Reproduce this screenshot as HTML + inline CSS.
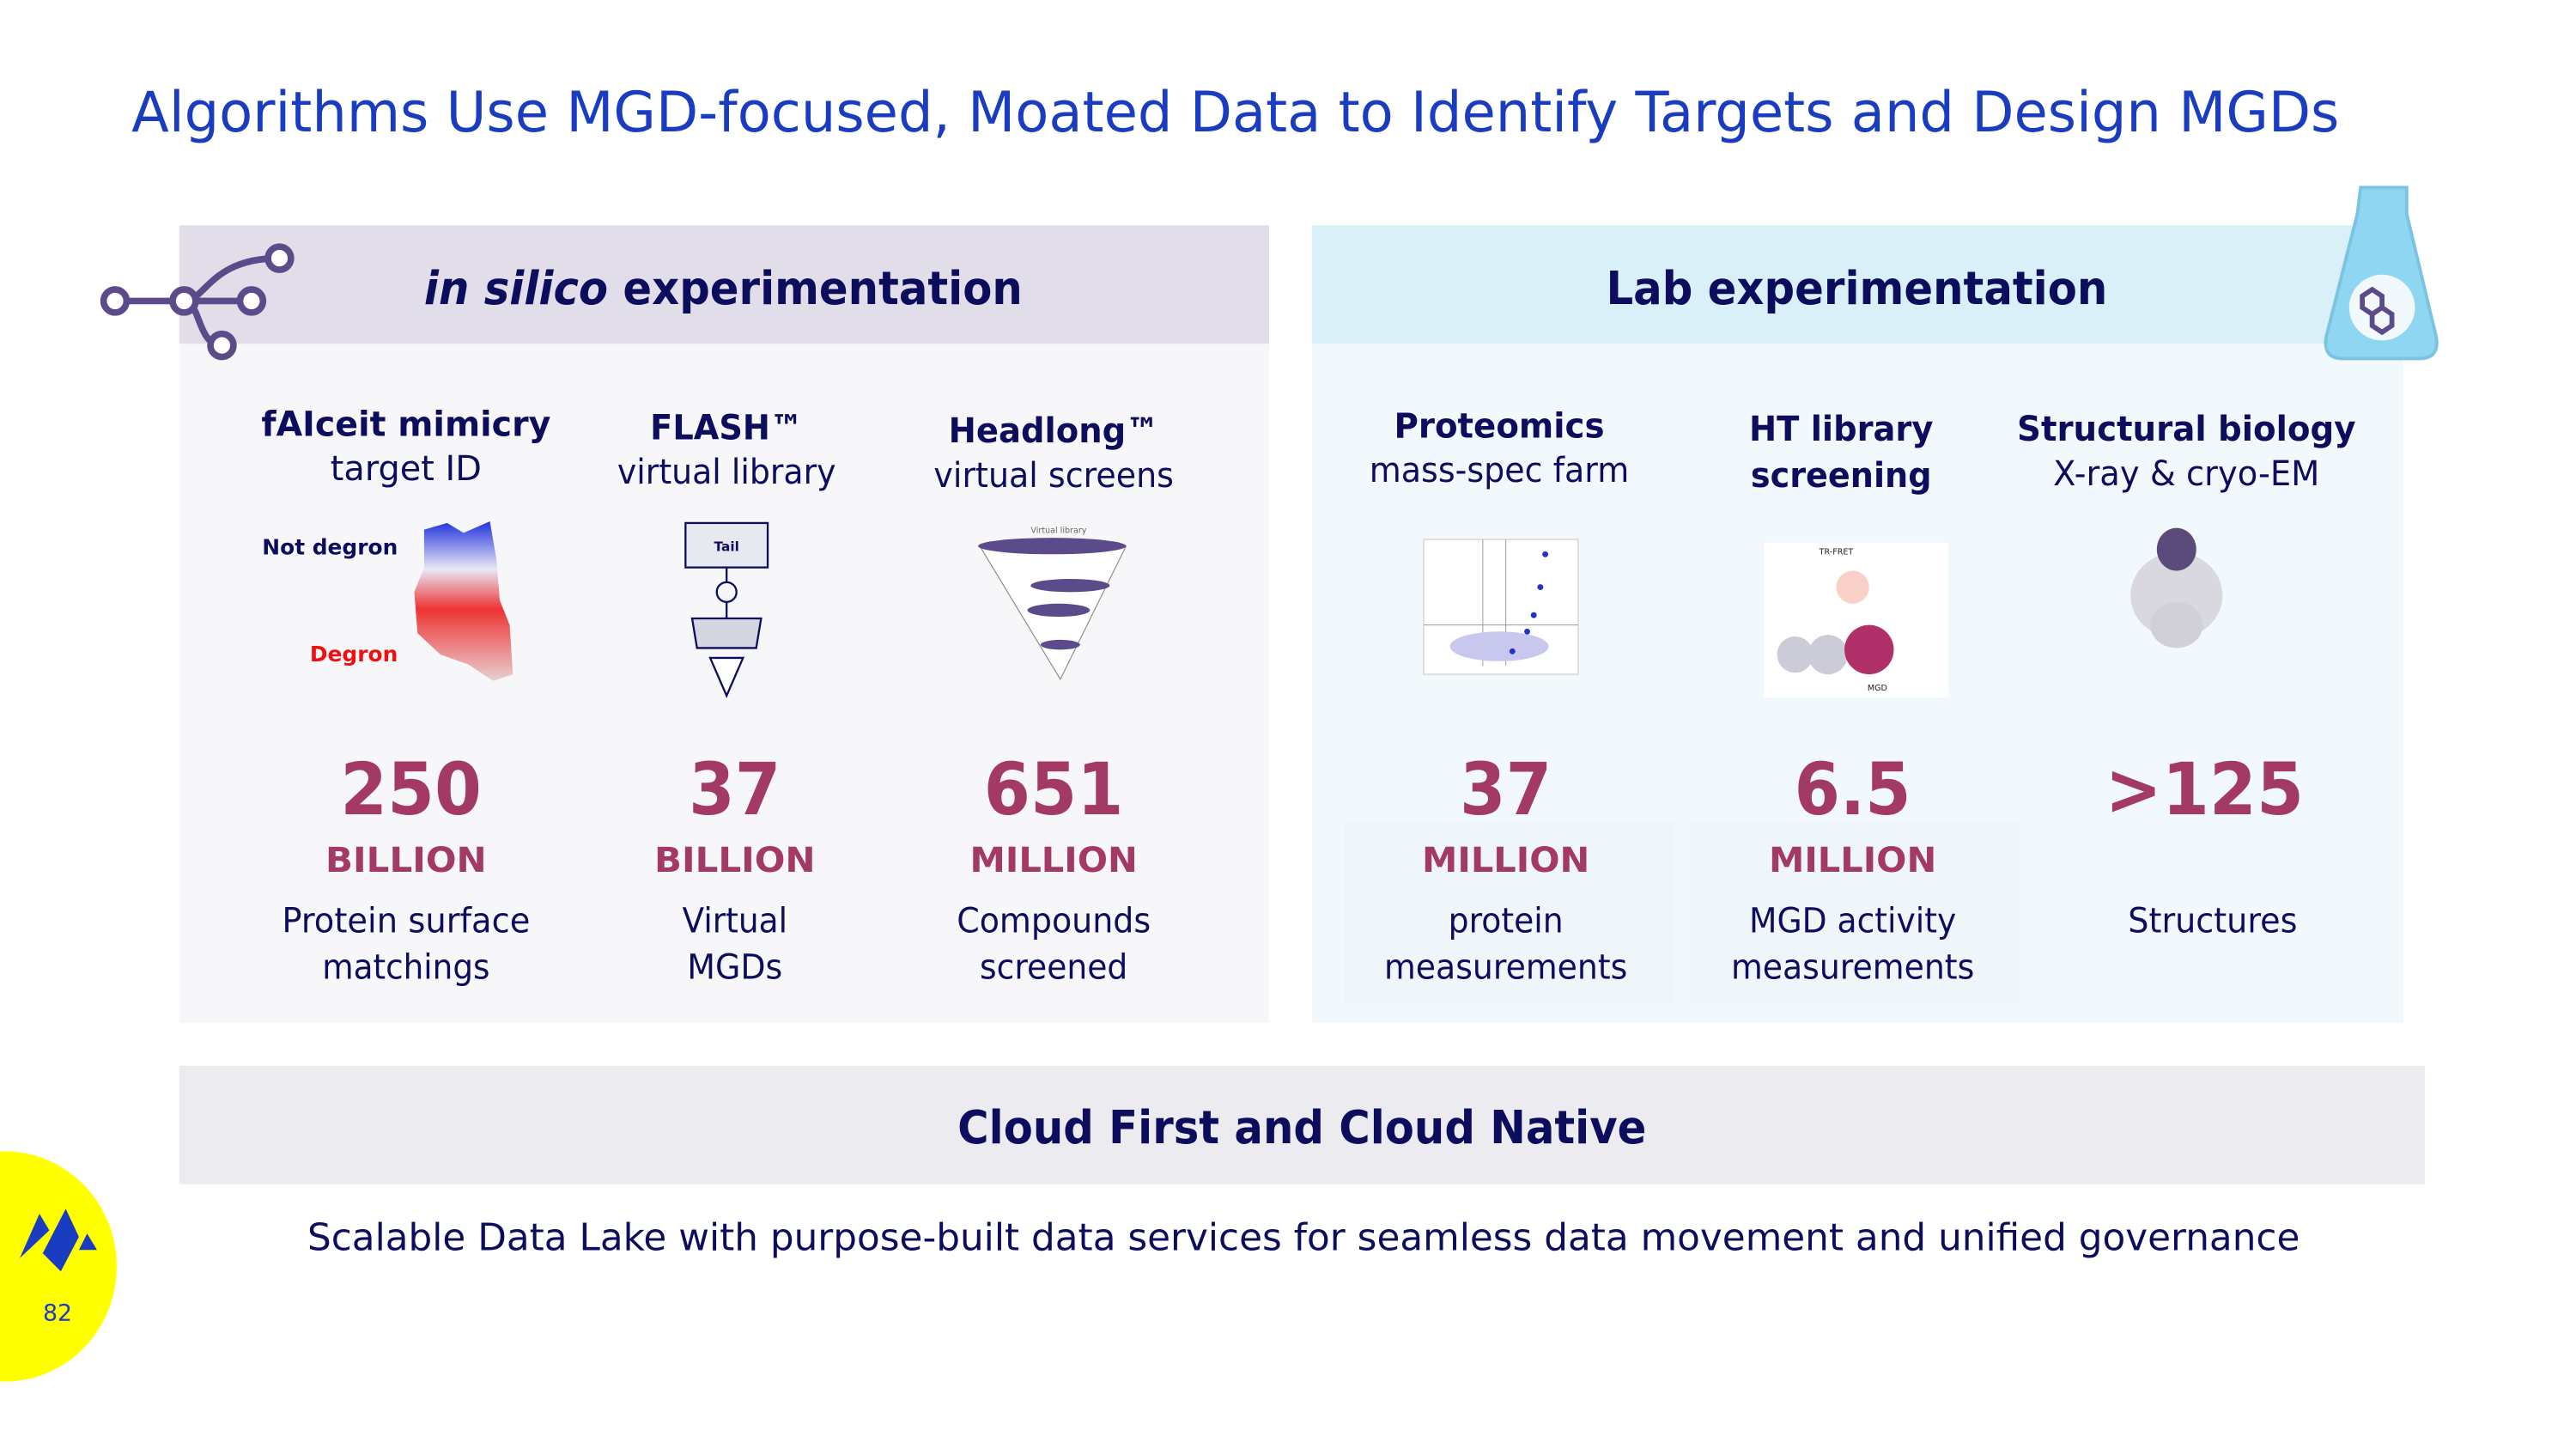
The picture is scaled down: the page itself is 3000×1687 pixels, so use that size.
<!DOCTYPE html>
<html><head><meta charset="utf-8">
<style>
html,body{margin:0;padding:0;background:#fff;}
svg{display:block;}
text{font-family:"DejaVu Sans","Liberation Sans",sans-serif;}
</style></head>
<body>
<svg width="3000" height="1687" viewBox="0 0 1567 881" preserveAspectRatio="none" xmlns="http://www.w3.org/2000/svg">
<rect width="1567" height="881" fill="#fff"/>
<text x="80" y="80" font-size="34" fill="#1a3cc0" textLength="1343" lengthAdjust="spacingAndGlyphs">Algorithms Use MGD-focused, Moated Data to Identify Targets and Design MGDs</text>

<g>
<rect x="109" y="209" width="663" height="413" fill="#f7f7fa"/>
<rect x="109" y="137" width="663" height="72" fill="#e1dde9"/>
<text x="258" y="185" font-size="28" font-weight="bold" fill="#0d0d5e" textLength="364" lengthAdjust="spacingAndGlyphs"><tspan font-style="italic">in silico</tspan> experimentation</text>
</g>
<g fill="#fff" stroke="#5b4b8a" stroke-width="4">
<path d="M70 183 H153 M112 183 C125 183 128 157 170 157 M112 183 C122 183 120 210 135 210" fill="none"/>
<circle cx="70" cy="183" r="7"/><circle cx="112" cy="183" r="7"/><circle cx="153" cy="183" r="7"/><circle cx="170" cy="157" r="7"/><circle cx="135" cy="210" r="7"/>
</g>

<g>
<rect x="798" y="209" width="664" height="413" fill="#f2f9fc"/>
<rect x="1028" y="500" width="200" height="110" fill="#eef6fa"/>
<rect x="818" y="500" width="200" height="110" fill="#eef6fa"/>
<rect x="798" y="137" width="664" height="72" fill="#d9f0f8"/>
<text x="977" y="185" font-size="28" font-weight="bold" fill="#0d0d5e" textLength="305" lengthAdjust="spacingAndGlyphs">Lab experimentation</text>
</g>
<g>
<path d="M1436 114 H1464 V130 L1482 205 Q1484 218 1472 218 H1425 Q1413 218 1415 205 L1434 130 Z" fill="#8fd6f2" stroke="#7cc3e0" stroke-width="2"/>
<circle cx="1449" cy="187" r="20" fill="#f2f9fc"/>
<path d="M1437 180 l6 -4 6 4 v7 l-6 4 -6 -4 z M1449 187 l6 4 v7 l-6 4 -6 -4 v-7" fill="none" stroke="#5b4b8a" stroke-width="3"/>
</g>

<g fill="#0d0d5e" text-anchor="middle" font-size="21">
<text x="247" y="265" font-weight="bold" textLength="176" lengthAdjust="spacingAndGlyphs">fAIceit mimicry</text>
<text x="247" y="292" textLength="92" lengthAdjust="spacingAndGlyphs">target ID</text>
<text x="442" y="267" font-weight="bold" textLength="93" lengthAdjust="spacingAndGlyphs">FLASH™</text>
<text x="442" y="294" textLength="133" lengthAdjust="spacingAndGlyphs">virtual library</text>
<text x="641" y="269" font-weight="bold" textLength="128" lengthAdjust="spacingAndGlyphs">Headlong™</text>
<text x="641" y="296" textLength="146" lengthAdjust="spacingAndGlyphs">virtual screens</text>
<text x="912" y="266" font-weight="bold" textLength="128" lengthAdjust="spacingAndGlyphs">Proteomics</text>
<text x="912" y="293" textLength="158" lengthAdjust="spacingAndGlyphs">mass-spec farm</text>
<text x="1120" y="268" font-weight="bold" textLength="112" lengthAdjust="spacingAndGlyphs">HT library</text>
<text x="1120" y="296" font-weight="bold" textLength="110" lengthAdjust="spacingAndGlyphs">screening</text>
<text x="1330" y="268" font-weight="bold" textLength="206" lengthAdjust="spacingAndGlyphs">Structural biology</text>
<text x="1330" y="295" textLength="162" lengthAdjust="spacingAndGlyphs">X-ray &amp; cryo-EM</text>
</g>

<g>
<defs><linearGradient id="dg" x1="0" y1="0" x2="0" y2="1"><stop offset="0" stop-color="#2233dd"/><stop offset="0.3" stop-color="#e8e8f5"/><stop offset="0.55" stop-color="#ee3333"/><stop offset="1" stop-color="#e8d0d0"/></linearGradient></defs>
<path d="M258 322 L272 318 282 324 298 317 302 340 304 365 310 380 312 410 300 414 285 404 268 398 254 385 252 360 258 345 Z" fill="url(#dg)"/>
<text x="242" y="337" font-size="13" font-weight="bold" fill="#0d0d5e" text-anchor="end">Not degron</text>
<text x="242" y="402" font-size="13" font-weight="bold" fill="#ee1111" text-anchor="end">Degron</text>
</g>
<g stroke="#0d0d5e" stroke-width="1.2">
<rect x="417" y="318" width="50" height="27" fill="#e8e8f0"/>
<text x="442" y="335" font-size="8" font-weight="bold" fill="#0d0d5e" stroke="none" text-anchor="middle">Tail</text>
<line x1="442" y1="345" x2="442" y2="376"/>
<circle cx="442" cy="360" r="6" fill="#f7f7fa"/>
<path d="M421 376 H463 L460 394 H424 Z" fill="#d6d6e2"/>
<path d="M432 400 H452 L442 423 Z" fill="#fff"/>
</g>
<g fill="#5b4b8a">
<path d="M596 332 L685 332 L645 413 Z" fill="#fff" stroke="#888" stroke-width="0.6"/>
<ellipse cx="640" cy="332" rx="45" ry="5"/>
<ellipse cx="651" cy="356" rx="24" ry="4"/>
<ellipse cx="644" cy="371" rx="19" ry="4"/>
<ellipse cx="645" cy="392" rx="12" ry="3"/>
<text x="644" y="324" font-size="5" fill="#666" text-anchor="middle">Virtual library</text>
</g>
<g>
<rect x="866" y="328" width="94" height="82" fill="#fff" stroke="#ddd"/>
<line x1="902" y1="328" x2="902" y2="405" stroke="#999" stroke-width="0.5"/>
<line x1="916" y1="328" x2="916" y2="405" stroke="#999" stroke-width="0.5"/>
<line x1="866" y1="380" x2="960" y2="380" stroke="#999" stroke-width="0.5"/>
<ellipse cx="912" cy="393" rx="30" ry="9" fill="#c8c8ee"/>
<circle cx="940" cy="337" r="1.8" fill="#2233cc"/><circle cx="937" cy="357" r="1.8" fill="#2233cc"/><circle cx="929" cy="384" r="1.8" fill="#2233cc"/><circle cx="933" cy="374" r="1.8" fill="#2233cc"/><circle cx="920" cy="396" r="1.8" fill="#2233cc"/>
</g>
<g>
<rect x="1073" y="330" width="112" height="94" fill="#fff"/>
<circle cx="1092" cy="398" r="11" fill="#ccccd8"/>
<circle cx="1112" cy="398" r="12" fill="#ccccd8"/>
<circle cx="1137" cy="395" r="15" fill="#b0306a"/>
<circle cx="1127" cy="357" r="10" fill="#f8d0c8"/>
<text x="1117" y="337" font-size="5" fill="#222" text-anchor="middle">TR-FRET</text>
<text x="1142" y="420" font-size="5" fill="#222" text-anchor="middle">MGD</text>
</g>
<g>
<ellipse cx="1324" cy="362" rx="28" ry="26" fill="#d8d8de"/>
<ellipse cx="1324" cy="380" rx="16" ry="14" fill="#d0d0d6"/>
<ellipse cx="1324" cy="334" rx="12" ry="13" fill="#5b4b7a"/>
</g>

<g text-anchor="middle">
<g fill="#a33a66" font-weight="bold">
<text x="250" y="495" font-size="44" textLength="86" lengthAdjust="spacingAndGlyphs">250</text>
<text x="447" y="495" font-size="44" textLength="56" lengthAdjust="spacingAndGlyphs">37</text>
<text x="641" y="495" font-size="44" textLength="85" lengthAdjust="spacingAndGlyphs">651</text>
<text x="916" y="495" font-size="44" textLength="56" lengthAdjust="spacingAndGlyphs">37</text>
<text x="1127" y="495" font-size="44" textLength="71" lengthAdjust="spacingAndGlyphs">6.5</text>
<text x="1341" y="495" font-size="44" textLength="121" lengthAdjust="spacingAndGlyphs">&gt;125</text>
<text x="247" y="530" font-size="21" textLength="98" lengthAdjust="spacingAndGlyphs">BILLION</text>
<text x="447" y="530" font-size="21" textLength="98" lengthAdjust="spacingAndGlyphs">BILLION</text>
<text x="641" y="530" font-size="21" textLength="102" lengthAdjust="spacingAndGlyphs">MILLION</text>
<text x="916" y="530" font-size="21" textLength="102" lengthAdjust="spacingAndGlyphs">MILLION</text>
<text x="1127" y="530" font-size="21" textLength="102" lengthAdjust="spacingAndGlyphs">MILLION</text>
</g>
<g fill="#0d0d5e" font-size="21">
<text x="247" y="567" textLength="151" lengthAdjust="spacingAndGlyphs">Protein surface</text>
<text x="247" y="595" textLength="102" lengthAdjust="spacingAndGlyphs">matchings</text>
<text x="447" y="567" textLength="64" lengthAdjust="spacingAndGlyphs">Virtual</text>
<text x="447" y="595" textLength="58" lengthAdjust="spacingAndGlyphs">MGDs</text>
<text x="641" y="567" textLength="118" lengthAdjust="spacingAndGlyphs">Compounds</text>
<text x="641" y="595" textLength="90" lengthAdjust="spacingAndGlyphs">screened</text>
<text x="916" y="567" textLength="70" lengthAdjust="spacingAndGlyphs">protein</text>
<text x="916" y="595" textLength="148" lengthAdjust="spacingAndGlyphs">measurements</text>
<text x="1127" y="567" textLength="126" lengthAdjust="spacingAndGlyphs">MGD activity</text>
<text x="1127" y="595" textLength="148" lengthAdjust="spacingAndGlyphs">measurements</text>
<text x="1346" y="567" textLength="103" lengthAdjust="spacingAndGlyphs">Structures</text>
</g>
</g>

<rect x="109" y="648" width="1366" height="72" fill="#ebebf0"/>
<text x="792" y="695" font-size="28" font-weight="bold" fill="#0d0d5e" text-anchor="middle" textLength="419" lengthAdjust="spacingAndGlyphs">Cloud First and Cloud Native</text>
<text x="793" y="760" font-size="23" fill="#0d0d5e" text-anchor="middle" textLength="1212" lengthAdjust="spacingAndGlyphs">Scalable Data Lake with purpose-built data services for seamless data movement and unified governance</text>

<g>
<ellipse cx="3" cy="770" rx="68" ry="70" fill="#ffff00"/>
<path d="M12 765 L24 738 L30 748 Z M26 762 L40 735 L48 752 L37 773 Z M48 760 L53 750 L59 760 Z" fill="#1a3cc0"/>
<text x="35" y="803" font-size="14" fill="#1a3cc0" text-anchor="middle">82</text>
</g>
</svg>
</body></html>
